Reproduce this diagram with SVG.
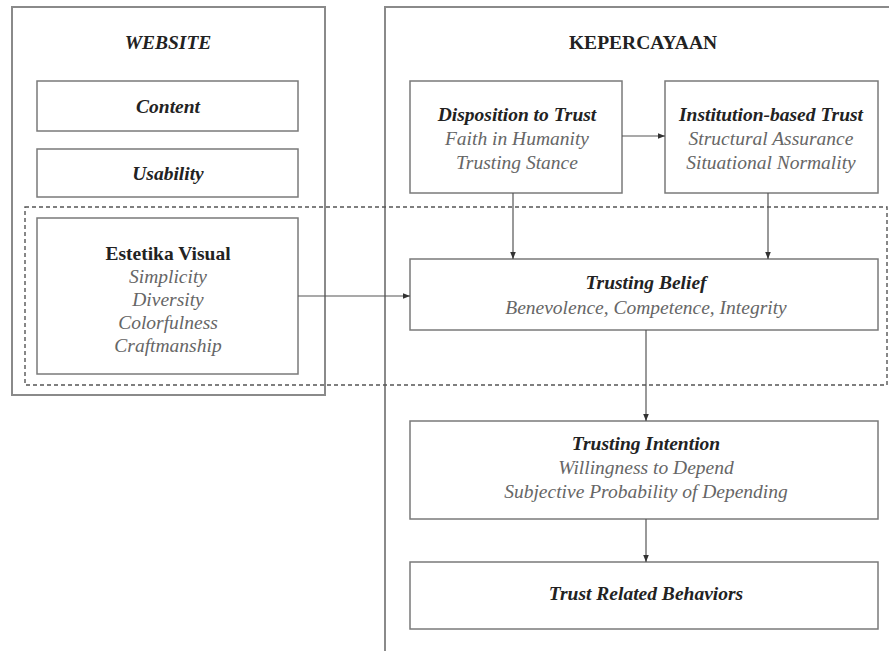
<svg xmlns="http://www.w3.org/2000/svg" width="889" height="651" viewBox="0 0 889 651">
<style>
.bg{fill:#ffffff}
.outer{fill:none;stroke:#8a8a8a;stroke-width:2}
.box{fill:#ffffff;stroke:#7a7a7a;stroke-width:1.5}
.dash{fill:none;stroke:#555;stroke-width:1.4;stroke-dasharray:4 3}
.t{font-family:"Liberation Serif","Times New Roman",serif;font-size:19.5px;text-anchor:middle}
.h{fill:#222;font-weight:bold}
.bi{fill:#222;font-weight:bold;font-style:italic}
.s{fill:#666;font-style:italic}
.con{fill:none;stroke:#555;stroke-width:1.2}
</style>
<defs>
<marker id="ah" viewBox="0 0 10 10" refX="10" refY="5" markerWidth="7" markerHeight="7" orient="auto" markerUnits="userSpaceOnUse">
<path d="M0,1 L10,5 L0,9 z" fill="#333"/>
</marker>
</defs>
<rect class="bg" x="0" y="0" width="889" height="651"/>
<g id="website">
<rect class="outer" x="12" y="7" width="313" height="388"/>
<text class="t bi" x="168" y="49">WEBSITE</text>
</g>
<g id="kepercayaan">
<rect class="outer" x="385" y="7" width="520" height="670"/>
<text class="t h" x="643" y="49">KEPERCAYAAN</text>
</g>
<g id="content">
<rect class="box" x="37" y="81" width="261" height="50"/>
<text class="t bi" x="168" y="113">Content</text>
</g>
<g id="usability">
<rect class="box" x="37" y="149" width="261" height="48"/>
<text class="t bi" x="168" y="180">Usability</text>
</g>
<g id="estetika">
<rect class="box" x="37" y="218" width="261" height="156"/>
<text class="t h" x="168" y="260">Estetika Visual</text>
<text class="t s" x="168" y="283">Simplicity</text>
<text class="t s" x="168" y="306">Diversity</text>
<text class="t s" x="168" y="329">Colorfulness</text>
<text class="t s" x="168" y="352">Craftmanship</text>
</g>
<g id="disposition">
<rect class="box" x="410" y="81" width="212" height="112"/>
<text class="t bi" x="517" y="121">Disposition to Trust</text>
<text class="t s" x="517" y="145">Faith in Humanity</text>
<text class="t s" x="517" y="169">Trusting Stance</text>
</g>
<g id="institution">
<rect class="box" x="665" y="81" width="213" height="112"/>
<text class="t bi" x="771" y="121">Institution-based Trust</text>
<text class="t s" x="771" y="145">Structural Assurance</text>
<text class="t s" x="771" y="169">Situational Normality</text>
</g>
<g id="belief">
<rect class="box" x="410" y="259" width="468" height="71"/>
<text class="t bi" x="646" y="289">Trusting Belief</text>
<text class="t s" x="646" y="314">Benevolence, Competence, Integrity</text>
</g>
<g id="intention">
<rect class="box" x="410" y="421" width="468" height="98"/>
<text class="t bi" x="646" y="450">Trusting Intention</text>
<text class="t s" x="646" y="474">Willingness to Depend</text>
<text class="t s" x="646" y="498">Subjective Probability of Depending</text>
</g>
<g id="behaviors">
<rect class="box" x="410" y="562" width="468" height="67"/>
<text class="t bi" x="646" y="600">Trust Related Behaviors</text>
</g>
<g id="group">
<rect class="dash" x="25" y="207" width="862" height="178"/>
</g>
<g id="connectors">
<line class="con" x1="622" y1="136" x2="665" y2="136" marker-end="url(#ah)"/>
<line class="con" x1="513" y1="193" x2="513" y2="259" marker-end="url(#ah)"/>
<line class="con" x1="768" y1="193" x2="768" y2="259" marker-end="url(#ah)"/>
<line class="con" x1="298" y1="296" x2="410" y2="296" marker-end="url(#ah)"/>
<line class="con" x1="646" y1="330" x2="646" y2="421" marker-end="url(#ah)"/>
<line class="con" x1="646" y1="519" x2="646" y2="562" marker-end="url(#ah)"/>
</g>
</svg>
